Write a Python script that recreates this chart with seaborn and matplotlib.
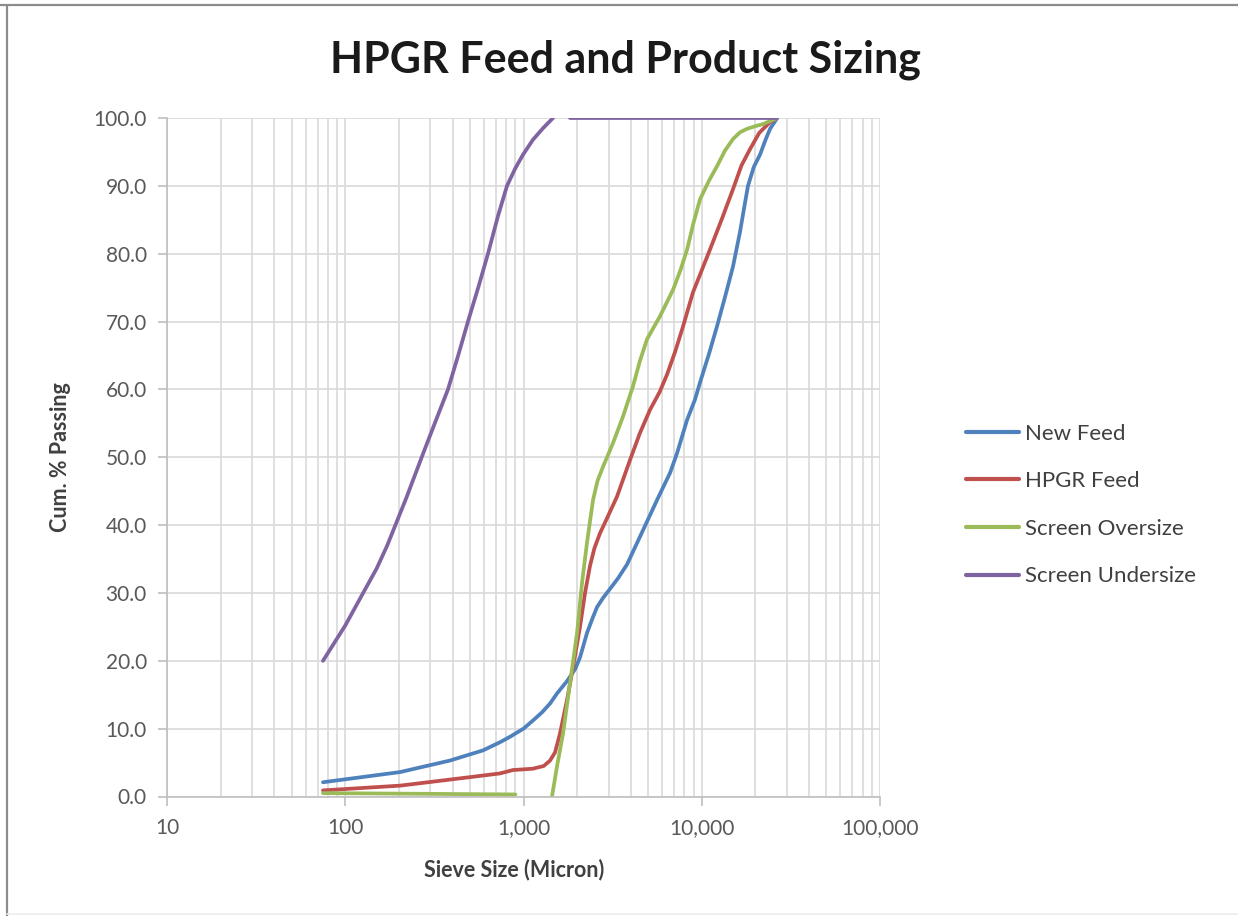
import numpy as np
import pandas as pd
import matplotlib
matplotlib.use("Agg")
import matplotlib.pyplot as plt
from matplotlib.lines import Line2D
from matplotlib.ticker import FixedLocator, FuncFormatter, LogLocator, NullFormatter
import seaborn as sns

# Cumulative % passing vs. sieve size (micron); NaN marks a break in a trace
series_names = ["New Feed", "HPGR Feed", "Screen Oversize", "Screen Undersize"]
series_colors = ["#4F81BD", "#C0504D", "#9BBB59", "#8064A2"]

new_feed_size = [75, 203, 387, 593, 738, 840, 1000, 1130, 1270, 1409, 1543, 1754, 1950,
                 2075, 2271, 2450, 2584, 2800, 3057, 3400, 3808, 4505, 5613, 6642,
                 7269, 8272, 9162, 9775, 11000, 12180, 13500, 14970, 16390, 17300,
                 18170, 19600, 21230, 22800, 24170, 26500]
new_feed_pass = [2.1, 3.6, 5.3, 6.8, 8.0, 8.8, 10.0, 11.2, 12.4, 13.7, 15.2, 17.0, 18.8,
                 20.5, 24.1, 26.4, 27.9, 29.3, 30.6, 32.2, 34.2, 38.3, 43.7, 47.7,
                 50.6, 55.5, 58.5, 61.0, 65.3, 69.3, 73.6, 78.1, 83.2, 86.8,
                 90.0, 92.8, 94.6, 96.8, 98.4, 100.0]

hpgr_feed_size = [75, 203, 482, 738, 873, 1000, 1130, 1300, 1409, 1503, 1603, 1754,
                  1897, 2075, 2214, 2361, 2500, 2686, 3000, 3346, 3959, 4505, 5127,
                  5800, 6388, 7100, 7857, 8928, 11120, 13000, 14970, 16700, 18650,
                  21000, 24170, 26500]
hpgr_feed_pass = [0.9, 1.6, 2.8, 3.4, 3.9, 4.0, 4.1, 4.5, 5.3, 6.5, 9.3, 14.2,
                  19.1, 25.0, 30.0, 34.0, 36.6, 38.8, 41.5, 44.2, 49.6, 53.6, 57.0,
                  59.6, 62.2, 65.6, 69.3, 74.3, 80.6, 85.2, 89.5, 93.0, 95.4,
                  97.8, 99.4, 100.0]

oversize_size = [75, 900, 1180, 1445, 1543, 1667, 1824, 1997, 2130, 2271, 2455, 2600,
                 2793, 3178, 3616, 4116, 4500, 4932, 5835, 6905, 7600, 8272, 9000,
                 9775, 11000, 12180, 13500, 14970, 16400, 17950, 20000, 22070, 26500]
oversize_pass = [0.5, 0.3, np.nan, 0.0, 4.5, 9.3, 16.7, 24.1, 31.5, 37.4, 43.7, 46.5,
                 48.6, 52.1, 56.0, 60.5, 64.2, 67.4, 70.8, 74.7, 77.6, 80.6, 84.6,
                 88.0, 90.8, 92.9, 95.2, 96.9, 97.9, 98.4, 98.8, 99.1, 100.0]

undersize_size = [75, 100, 126, 150, 172, 220, 273, 320, 377, 430, 488, 560, 632, 720,
                  808, 900, 994, 1130, 1287, 1464, 1650, 1824, 26500]
undersize_pass = [20.0, 25.2, 30.0, 33.6, 37.0, 44.0, 50.5, 55.2, 60.0, 65.0, 70.0,
                  75.2, 80.0, 85.6, 90.0, 92.6, 94.6, 96.8, 98.5, 100.0, np.nan,
                  100.0, 100.0]

x_ticks = [10, 100, 1000, 10000, 100000]
y_ticks = [0, 10, 20, 30, 40, 50, 60, 70, 80, 90, 100]

title_text = "HPGR Feed and Product Sizing"
x_label = "Sieve Size (Micron)"
y_label = "Cum. % Passing"

# Long-form table; each unbroken run of a trace gets its own unit id
frames = []
for name, xs, ys in zip(series_names,
                        [new_feed_size, hpgr_feed_size, oversize_size, undersize_size],
                        [new_feed_pass, hpgr_feed_pass, oversize_pass, undersize_pass]):
    ys = np.asarray(ys, dtype=float)
    seg = np.cumsum(np.isnan(ys))
    d = pd.DataFrame({"size": xs, "passing": ys, "series": name,
                      "unit": [f"{name}-{s}" for s in seg]})
    frames.append(d[~np.isnan(ys)])
df = pd.concat(frames, ignore_index=True)

sns.set_theme(style="white")
plt.rcParams["font.family"] = ["Lato", "DejaVu Sans"]
plt.rcParams["lines.solid_capstyle"] = "round"
plt.rcParams["lines.solid_joinstyle"] = "round"

W, H = 1238, 916
fig = plt.figure(figsize=(W / 100, H / 100), dpi=100)
fig.patch.set_facecolor("white")
ax = fig.add_axes([167 / W, 1 - 796.5 / H, (880 - 167) / W, (796.5 - 118) / H])

sns.lineplot(data=df, x="size", y="passing", hue="series", hue_order=series_names,
             palette=dict(zip(series_names, series_colors)), units="unit",
             estimator=None, linewidth=2.7, ax=ax, legend=True)

ax.set_xscale("log")
ax.set_xlim(10, 100000)
ax.set_ylim(0, 100)

grid_c = "#d9d9d9"
ax.xaxis.set_major_locator(FixedLocator(x_ticks))
ax.xaxis.set_minor_locator(LogLocator(base=10, subs=np.arange(2, 10)))
ax.xaxis.set_major_formatter(FuncFormatter(lambda v, _: f"{v:,.0f}"))
ax.xaxis.set_minor_formatter(NullFormatter())
ax.yaxis.set_major_locator(FixedLocator(y_ticks))
ax.yaxis.set_major_formatter(FuncFormatter(lambda v, _: f"{v:.1f}"))

ax.grid(which="both", axis="x", color=grid_c, linewidth=1.2)
ax.grid(which="major", axis="y", color=grid_c, linewidth=1.2)
ax.set_axisbelow(True)

for s in ("top", "right"):
    ax.spines[s].set_visible(False)
for s in ("left", "bottom"):
    ax.spines[s].set_color("#bfbfbf")
    ax.spines[s].set_linewidth(1.2)

ax.tick_params(axis="both", which="major", bottom=True, left=True, direction="out",
               length=6.5, width=1.2, color="#bfbfbf", labelsize=15,
               labelcolor="#595959")
ax.tick_params(axis="x", which="major", pad=9)
ax.tick_params(axis="y", which="major", pad=8)
ax.tick_params(which="minor", length=0)

ax.set_xlabel(x_label, fontsize=15.5, fontweight="bold", color="#404040")
ax.set_ylabel(y_label, fontsize=15.5, fontweight="bold", color="#404040")
ax.xaxis.set_label_coords(0.487, -0.092)
ax.yaxis.set_label_coords(-0.135, 0.5)

fig.text(625 / W, 1 - 60 / H, title_text, ha="center", va="center",
         fontsize=31, fontweight="bold", color="#1a1a1a")

leg = ax.legend(loc="center left", bbox_to_anchor=(966 / W, 1 - 505 / H),
                bbox_transform=fig.transFigure, frameon=False, fontsize=16,
                handlelength=2.4, handletextpad=0.25, labelspacing=1.24,
                borderaxespad=0, borderpad=0)
for t in leg.get_texts():
    t.set_color("#404040")
for h in leg.get_lines():
    h.set_linewidth(3)

# Thin frame around the chart area
fig.add_artist(Line2D([0, 1], [1 - 5 / H, 1 - 5 / H], transform=fig.transFigure,
                      color="#8c8c8c", linewidth=1.6))
fig.add_artist(Line2D([7 / W, 7 / W], [0, 1 - 5 / H], transform=fig.transFigure,
                      color="#8c8c8c", linewidth=1.6))
fig.add_artist(Line2D([7 / W, 1], [2 / H, 2 / H], transform=fig.transFigure,
                      color="#ececec", linewidth=1.2))

fig.savefig("out.png", dpi=100, facecolor="white")
